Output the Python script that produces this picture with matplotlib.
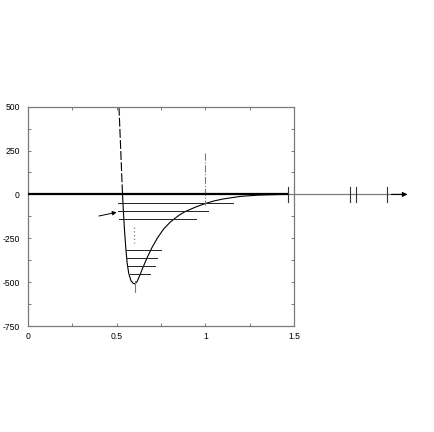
import matplotlib
matplotlib.use("Agg")
import matplotlib.pyplot as plt

# potential curve (r, energy)
rep_r = [0.513, 0.518, 0.523, 0.528, 0.533]
rep_e = [500, 375, 250, 125, 0]

well_r = [0.533, 0.538, 0.544, 0.551, 0.559, 0.568, 0.580, 0.592, 0.603,
          0.615, 0.630, 0.650, 0.672, 0.698, 0.730, 0.765, 0.800, 0.830,
          0.860, 0.890, 0.950, 1.000, 1.050, 1.100, 1.200, 1.300, 1.400, 1.460]
well_e = [0, -100, -200, -300, -390, -450, -490, -506, -510,
          -497, -462, -412, -360, -305, -248, -197, -160, -135,
          -113, -96, -70, -52, -37, -26, -11, -4, -1, 0]

# vibrational levels
lev_e = [-50, -95, -140, -317, -364, -408, -455]
lev_x0 = [0.508, 0.508, 0.513, 0.555, 0.559, 0.564, 0.574]
lev_x1 = [1.155, 1.014, 0.949, 0.752, 0.730, 0.718, 0.690]

xticks = [0, 0.5, 1, 1.5]
xlabels = ["0", "0.5", "1", "1.5"]
yticks = [-750, -500, -250, 0, 250, 500]
ylabels = ["-750", "-500", "-250", "0", "250", "500"]

plt.rcParams["font.family"] = ["Liberation Sans", "DejaVu Sans"]

fig = plt.figure(figsize=(4.34, 4.32), dpi=100)
ax = fig.add_axes([28 / 434, 1 - 326 / 432, 266 / 434, 219.3 / 432])
ax.set_xlim(0, 1.5)
ax.set_ylim(-750, 500)

grey = "#7a7a7a"
for s in ax.spines.values():
    s.set_color(grey)
    s.set_linewidth(0.9)

ax.set_xticks(xticks)
ax.set_xticklabels(xlabels)
ax.set_yticks(yticks)
ax.set_yticklabels(ylabels)
ax.set_xticks([0.25, 0.75, 1.25], minor=True)
ax.set_yticks([-625, -375, -125, 125, 375], minor=True)
ax.tick_params(which="both", direction="in", top=True, right=True,
               color=grey, width=0.7, labelsize=6.2, length=2.5)
ax.tick_params(axis="y", pad=6)
ax.tick_params(axis="x", pad=4)

# zero axis, thick inside, thin grey extension with arrow beyond
ax.plot([0, 1.46], [0, 0], color="black", lw=1.6, zorder=3)
ax.plot([1.46, 2.10], [0, 0], color=grey, lw=0.9, clip_on=False)
ax.annotate("", xy=(2.14, 0), xytext=(2.05, 0),
            arrowprops=dict(arrowstyle="-|>", color="black", lw=0.8,
                            mutation_scale=7, shrinkA=0, shrinkB=0),
            annotation_clip=False)
for xb in [1.464, 1.817, 1.852, 2.026]:
    ax.plot([xb, xb], [40, -45], color="#333333", lw=0.8, clip_on=False)

# potential
ax.plot(rep_r, rep_e, color="black", lw=0.8, dashes=(8, 2))
ax.plot(well_r, well_e, color="black", lw=0.8)

# levels
for e, a, b in zip(lev_e, lev_x0, lev_x1):
    ax.plot([a, b], [e, e], color="#222222", lw=0.7)

# dotted marker between levels, tick under minimum, dash-dot at r=1
ax.plot([0.595, 0.595], [-184, -279], color=grey, lw=0.9, ls=(0, (1, 2)))
ax.plot([0.603, 0.603], [-495, -554], color=grey, lw=0.8)
ax.plot([1.0, 1.0], [234, -62], color=grey, lw=0.8, ls="-.")

# arrow pointing to the levels
ax.annotate("", xy=(0.50, -102), xytext=(0.40, -123),
            arrowprops=dict(arrowstyle="-|>", color="black", lw=0.7,
                            mutation_scale=6, shrinkA=0, shrinkB=0))

fig.savefig("out.png", dpi=100)
